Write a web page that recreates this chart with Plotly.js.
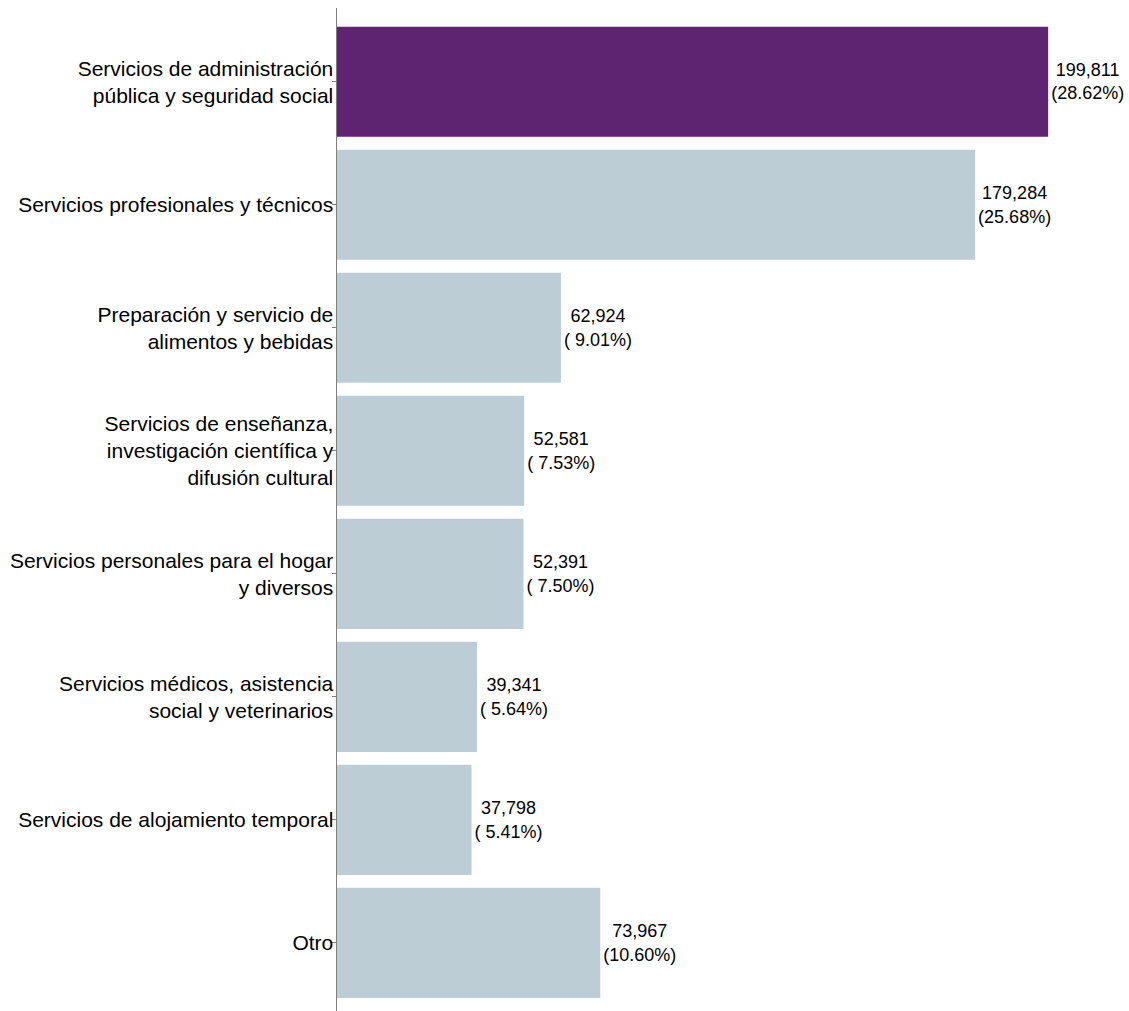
<!DOCTYPE html>
<html>
<head>
<meta charset="utf-8">
<script src="https://cdn.plot.ly/plotly-3.0.1.min.js"></script>
<style>html,body{margin:0;padding:0;background:#fff;}#chart{width:1129px;height:1011px;}</style>
</head>
<body>
<div id="chart"></div>
<script>
const categories = [
  "Servicios de administración<br>pública y seguridad social",
  "Servicios profesionales y técnicos",
  "Preparación y servicio de<br>alimentos y bebidas",
  "Servicios de enseñanza,<br>investigación científica y<br>difusión cultural",
  "Servicios personales para el hogar<br>y diversos",
  "Servicios médicos, asistencia<br>social y veterinarios",
  "Servicios de alojamiento temporal",
  "Otro"
];
const values = [199811, 179284, 62924, 52581, 52391, 39341, 37798, 73967];
const percents = ["28.62", "25.68", " 9.01", " 7.53", " 7.50", " 5.64", " 5.41", "10.60"];
const highlightIndex = 0;

const labels = values.map((v, i) => v.toLocaleString("en-US") + "<br>(" + percents[i] + "%)");
const colors = values.map((v, i) => i === highlightIndex ? "#5E2472" : "#BCCDD5");

const trace = {
  type: "bar",
  orientation: "h",
  x: values,
  y: categories,
  marker: {color: colors, line: {width: 0}},
  text: labels,
  textposition: "outside",
  cliponaxis: false,
  textfont: {family: "Liberation Sans, Arial, sans-serif", size: 18, color: "#000"},
  hoverinfo: "none"
};

const layout = {
  width: 1129,
  height: 1011,
  margin: {l: 337, r: 9, t: 8, b: 0},
  paper_bgcolor: "#fff",
  plot_bgcolor: "#fff",
  bargap: 0.105,
  showlegend: false,
  font: {family: "Liberation Sans, Arial, sans-serif", color: "#000"},
  xaxis: {
    range: [0, 220000],
    visible: false,
    showgrid: false,
    zeroline: false
  },
  yaxis: {
    type: "category",
    range: [7.554, -0.6],
    showline: true,
    linecolor: "#7f7f7f",
    linewidth: 1.5,
    ticks: "outside",
    ticklen: 4,
    tickcolor: "#7f7f7f",
    ticklabelstandoff: -6,
    showgrid: false,
    zeroline: false,
    tickfont: {family: "Liberation Sans, Arial, sans-serif", size: 21, color: "#000"}
  }
};

Plotly.newPlot("chart", [trace], layout, {staticPlot: true, displayModeBar: false});
</script>
</body>
</html>
